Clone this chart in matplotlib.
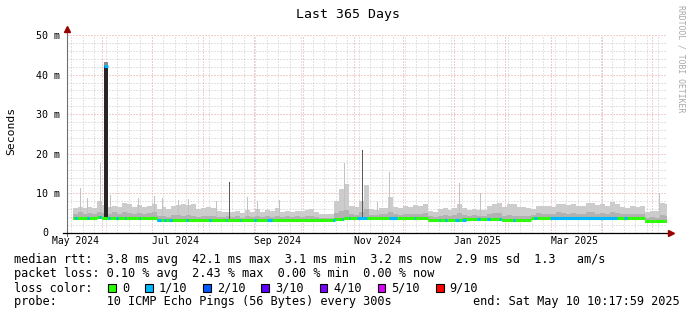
import datetime as dt
import matplotlib
matplotlib.use('Agg')
import matplotlib.pyplot as plt
import matplotlib.dates as mdates
from matplotlib.patches import Rectangle
import numpy as np

W, H = 697, 315
MONO = 'DejaVu Sans Mono'

start = dt.datetime(2024, 5, 10, 10, 17, 59)
end = start + dt.timedelta(days=365)

# smoke is read per 3 day bin, first bin starts 3.5 days after start
first_day = 3.5
bin_days = 3

smoke_top = [6.2, 6.5, 6.2, 6.6, 6.4, 8.0, 7.0, 6.5, 6.8, 6.5,
             7.5, 7.2, 6.6, 7.0, 6.6, 6.8, 7.4, 6.0, 6.5, 6.0,
             6.8, 7.0, 7.4, 7.0, 7.2, 6.0, 6.2, 6.6, 6.4, 5.6,
             5.4, 5.4, 5.2, 5.5, 5.0, 5.8, 5.4, 6.0, 5.3, 5.8,
             5.6, 6.2, 5.4, 5.6, 5.4, 5.6, 5.5, 5.8, 6.0, 5.2,
             4.8, 4.7, 4.8, 8.0, 11.0, 12.5, 6.8, 6.6, 8.0, 12.0,
             6.0, 5.8, 6.2, 6.4, 9.0, 6.6, 6.4, 6.8, 6.6, 7.0,
             6.8, 7.2, 5.6, 5.4, 6.0, 6.2, 5.8, 6.4, 7.3, 6.2,
             5.8, 6.0, 5.8, 5.8, 6.9, 7.4, 7.6, 6.6, 7.2, 7.2,
             6.6, 6.6, 6.4, 6.0, 6.9, 6.9, 6.8, 6.6, 7.3, 7.3,
             7.0, 7.2, 6.9, 6.9, 7.5, 7.6, 7.0, 7.2, 6.8, 7.8,
             7.4, 6.6, 6.4, 6.8, 6.6, 6.8, 5.4, 5.6, 5.5, 7.5, 7.3]

smoke_mid = [4.8, 5.2, 4.9, 5.0, 4.8, 5.4, 5.0, 4.9, 5.2, 4.8,
             5.3, 5.0, 4.8, 5.1, 4.9, 5.0, 5.2, 4.2, 4.4, 4.1,
             4.5, 4.6, 4.4, 4.6, 4.4, 4.0, 4.2, 4.4, 4.2, 4.0,
             4.1, 4.3, 4.0, 4.2, 3.9, 4.3, 4.1, 4.4, 4.0, 4.2,
             4.1, 4.4, 4.0, 4.2, 4.1, 4.3, 4.0, 4.3, 4.4, 4.0,
             3.8, 3.8, 3.9, 5.0, 5.6, 5.8, 4.8, 4.6, 5.2, 6.0,
             4.6, 4.5, 4.7, 4.8, 5.4, 4.8, 4.6, 4.8, 4.7, 4.9,
             4.8, 5.0, 4.2, 4.1, 4.4, 4.5, 4.2, 4.5, 5.0, 4.6,
             4.4, 4.5, 4.3, 4.4, 4.8, 5.0, 5.1, 4.3, 4.5, 4.4,
             4.2, 4.3, 4.2, 4.6, 5.0, 4.9, 4.7, 4.8, 5.2, 5.0,
             4.9, 5.1, 4.8, 4.9, 5.3, 5.2, 4.9, 5.1, 4.8, 5.4,
             5.1, 4.8, 4.7, 4.9, 4.8, 4.9, 3.9, 4.0, 3.9, 4.6, 4.4]

median_rtt = [3.8, 3.8, 3.9, 3.8, 3.8, 4.1, 3.9, 3.8, 3.8, 3.8,
              3.9, 3.8, 3.8, 3.8, 3.8, 3.9, 3.8, 3.3, 3.3, 3.4,
              3.3, 3.3, 3.3, 3.4, 3.3, 3.3, 3.3, 3.3, 3.3, 3.3,
              3.3, 3.4, 3.3, 3.3, 3.3, 3.3, 3.3, 3.4, 3.3, 3.3,
              3.3, 3.3, 3.3, 3.3, 3.3, 3.3, 3.3, 3.3, 3.3, 3.3,
              3.2, 3.2, 3.2, 3.6, 3.6, 3.8, 3.8, 3.8, 3.8, 3.9,
              3.8, 3.8, 3.8, 3.8, 3.9, 3.8, 3.8, 3.8, 3.8, 3.8,
              3.8, 3.8, 3.3, 3.3, 3.3, 3.3, 3.3, 3.3, 3.3, 3.5,
              3.5, 3.5, 3.6, 3.5, 3.5, 3.5, 3.5, 3.3, 3.3, 3.3,
              3.3, 3.3, 3.3, 3.8, 3.8, 3.9, 3.8, 3.8, 3.8, 3.9,
              3.8, 3.8, 3.8, 3.9, 3.8, 3.8, 3.8, 3.9, 3.8, 3.8,
              3.8, 3.8, 3.7, 3.7, 3.7, 3.7, 3.1, 3.1, 3.1, 3.1, 3.1]

smoke_low = [3.3, 3.3, 3.4, 3.3, 3.3, 3.5, 3.4, 3.3, 3.3, 3.3,
             3.4, 3.3, 3.3, 3.3, 3.3, 3.4, 3.3, 2.8, 2.8, 2.9,
             2.8, 2.8, 2.8, 2.9, 2.8, 2.8, 2.8, 2.8, 2.8, 2.8,
             2.8, 2.9, 2.8, 2.8, 2.8, 2.8, 2.8, 2.9, 2.8, 2.8,
             2.8, 2.8, 2.8, 2.8, 2.8, 2.8, 2.8, 2.8, 2.8, 2.8,
             2.7, 2.7, 2.7, 3.1, 3.1, 3.3, 3.3, 3.3, 3.3, 3.4,
             3.3, 3.3, 3.3, 3.3, 3.4, 3.3, 3.3, 3.3, 3.3, 3.3,
             3.3, 3.3, 2.8, 2.8, 2.8, 2.8, 2.8, 2.8, 2.8, 3.0,
             3.0, 3.0, 3.1, 3.0, 3.0, 3.0, 3.0, 2.8, 2.8, 2.8,
             2.8, 2.8, 2.8, 3.3, 3.3, 3.4, 3.3, 3.3, 3.3, 3.4,
             3.3, 3.3, 3.3, 3.4, 3.3, 3.3, 3.3, 3.4, 3.3, 3.3,
             3.3, 3.3, 3.2, 3.2, 3.2, 3.2, 2.6, 2.6, 2.6, 2.6, 2.6]

# thin single-step spikes (day after start, ms)
spike_days = [7.9, 12.2, 20.1, 26.2, 43.2, 52.9, 57.8, 67.5, 73.6, 90.6,
              109.5, 115.6, 129.0, 168.5, 188.6, 195.9, 238.5, 251.2, 360.1]
spike_ms = [11.4, 8.8, 17.8, 9.6, 8.8, 9.3, 8.8, 8.3, 8.5, 8.2,
            9.2, 8.0, 8.3, 17.8, 7.9, 15.5, 12.7, 10.2, 10.0]
dark_spike_days = [98.6, 179.5]
dark_spike_ms = [13.0, 21.0]

# the one outage-like step late May 2024
big_day = 22.5
big_len = 2.2
big_median = 42.1
big_max = 43.3

# steps with 1/10 loss (start day, length in days)
loss_start = [5.0, 12.3, 19.5, 25.0, 30.0, 35.0, 43.5, 55.0, 59.0, 62.0,
              72.5, 86.5, 96.5, 105.0, 114.0, 121.5, 162.0, 167.0, 171.3, 176.3,
              196.0, 211.0, 226.0, 230.0, 236.0, 240.0, 249.4, 255.5, 263.0, 271.5,
              284.0, 293.8, 338.9]
loss_len = [1.2, 1.2, 1.2, 1.0, 1.0, 1.0, 1.0, 2.0, 1.5, 2.0,
            1.2, 1.2, 1.0, 1.0, 1.2, 3.0, 1.2, 1.0, 1.0, 6.0,
            5.0, 1.0, 1.0, 1.0, 2.5, 3.0, 1.8, 1.8, 1.0, 1.0,
            2.0, 40.8, 1.8]

rtt_stats = [3.8, 42.1, 3.1, 3.2, 2.9]
am_s = 1.3
loss_stats = [0.10, 2.43, 0.00, 0.00]
loss_labels = ['0', '1/10', '2/10', '3/10', '4/10', '5/10', '9/10']
loss_colors = ['#26ff00', '#00b8ff', '#0059ff', '#5e00ff', '#7e00ff', '#dd00ff', '#ff0000']
y_ticks = [10, 20, 30, 40, 50]
x_labels = [dt.datetime(2024, 5, 1), dt.datetime(2024, 7, 1), dt.datetime(2024, 9, 1),
            dt.datetime(2024, 11, 1), dt.datetime(2025, 1, 1), dt.datetime(2025, 3, 1)]

fig = plt.figure(figsize=(W / 100, H / 100), dpi=100)
fig.patch.set_facecolor('white')
ax = fig.add_axes([67 / W, 82 / H, 600 / W, 198 / H])
ax.set_facecolor('white')

d0 = mdates.date2num(start)
d1 = mdates.date2num(end)
ax.set_xlim(d0, d1)
ax.set_ylim(0, 50)

# grid
for ms in range(2, 51, 2):
    if ms % 10 == 0:
        ax.axhline(ms, color='#e89a9a', lw=0.72, ls=(0, (1, 2)), zorder=1)
    else:
        ax.axhline(ms, color='#c8c8c8', lw=0.72, ls=(0, (1, 2)), zorder=1)
day = start.date() + dt.timedelta(days=1)
while day < end.date():
    if day.day == 1:
        ax.axvline(mdates.date2num(day), color='#e89a9a', lw=0.72, ls=(0, (1, 2)), zorder=1)
    elif day.weekday() == 0:
        ax.axvline(mdates.date2num(day), color='#c8c8c8', lw=0.72, ls=(0, (1, 2)), zorder=1)
    day += dt.timedelta(days=1)

top = np.array(smoke_top)
mid = np.array(smoke_mid)
med = np.array(median_rtt)
low = np.array(smoke_low)
bx = d0 + first_day + bin_days * np.arange(len(top))

# smoke
ax.bar(bx, top - low, bottom=low, width=bin_days, align='edge', color='#cccccc', lw=0, zorder=2)
sp_base = med[((np.array(spike_days) - first_day) // bin_days).astype(int)]
ax.bar(d0 + np.array(spike_days), np.array(spike_ms) - sp_base, bottom=sp_base,
       width=0.75, align='edge', color='#c2c2c2', lw=0, zorder=2)
ax.bar(bx, mid - low, bottom=low, width=bin_days, align='edge', color='#b2b2b2', lw=0, zorder=3)
dk_base = med[((np.array(dark_spike_days) - first_day) // bin_days).astype(int)]
ax.bar(d0 + np.array(dark_spike_days), np.array(dark_spike_ms) - dk_base, bottom=dk_base,
       width=0.8, align='edge', color='#5a5a5a', lw=0, zorder=3)

# big step
bi = int((big_day - first_day) // bin_days)
ax.bar(d0 + big_day, big_max - med[bi], bottom=med[bi], width=big_len, align='edge',
       color='#8a8a8a', lw=0, zorder=4)
ax.bar(d0 + big_day, big_median - med[bi], bottom=med[bi], width=big_len, align='edge',
       color='#262626', lw=0, zorder=4)
ax.hlines(big_median, d0 + big_day, d0 + big_day + big_len, colors=loss_colors[1],
          lw=2.2, zorder=6, capstyle='butt')

# median coloured by loss
ax.hlines(med, bx, bx + bin_days, colors=loss_colors[0], lw=2.2, zorder=5, capstyle='butt')
for s, l in zip(loss_start, loss_len):
    i = int((s - first_day) // bin_days)
    ax.hlines(med[i], d0 + s, d0 + s + l, colors=loss_colors[1], lw=2.2, zorder=6, capstyle='butt')

# axes
for sp in ax.spines.values():
    sp.set_visible(False)
ax.set_xticks([])
ax.set_yticks(y_ticks)
ax.set_yticklabels(['%d m' % v for v in y_ticks], family=MONO, fontsize=7.2)
ax.tick_params(axis='y', length=0, pad=5)
# rrdtool pads the zero label as if it had a unit
ax.text(-19 / 600, 0, '0', transform=ax.transAxes, ha='right', va='center',
        family=MONO, fontsize=7.2)
ax.plot([0, 0], [-0.015, 1.02], transform=ax.transAxes, color='#707070', lw=0.8,
        clip_on=False, zorder=7)
ax.plot([-4 / 600, 1.003], [0, 0], transform=ax.transAxes, color='black', lw=0.9,
        clip_on=False, zorder=7)
ax.plot([0], [1.03], marker='^', ms=4, color='#990000', transform=ax.transAxes, clip_on=False, zorder=8)
ax.plot([1.0067], [0], marker='>', ms=4, color='#990000', transform=ax.transAxes, clip_on=False, zorder=8)

for d in x_labels:
    ax.text(mdates.date2num(d), -0.058, d.strftime('%b %Y'), ha='left', va='baseline',
            family=MONO, fontsize=7.0, transform=ax.get_xaxis_transform(), clip_on=False)

fig.text(348 / W, 1 - 18.3 / H, 'Last 365 Days', ha='center', va='baseline', family=MONO, fontsize=9.5)
fig.text(11 / W, 1 - 131 / H, 'Seconds', rotation=90, ha='center', va='center', family=MONO, fontsize=8.2)
fig.text(681 / W, 1 - 5 / H, 'RRDTOOL / TOBI OETIKER', rotation=270, ha='center', va='top',
         family=MONO, fontsize=5.9, color='#a8a8a8')

# legend
fs = 8.58
cw = 7.17
x0 = 14.1
line1 = 'median rtt:  %.1f ms avg  %.1f ms max  %.1f ms min  %.1f ms now  %.1f ms sd  %.1f   am/s' % (
    rtt_stats[0], rtt_stats[1], rtt_stats[2], rtt_stats[3], rtt_stats[4], am_s)
line2 = 'packet loss: %.2f %% avg  %.2f %% max  %.2f %% min  %.2f %% now' % tuple(loss_stats)
line4 = 'probe:       10 ICMP Echo Pings (56 Bytes) every 300s'
fig.text(x0 / W, 1 - 263.5 / H, line1, family=MONO, fontsize=fs, va='baseline')
fig.text(x0 / W, 1 - 277.5 / H, line2, family=MONO, fontsize=fs, va='baseline')
fig.text(x0 / W, 1 - 291.5 / H, 'loss color:', family=MONO, fontsize=fs, va='baseline')
fig.text(x0 / W, 1 - 305.5 / H, line4, family=MONO, fontsize=fs, va='baseline')
fig.text((x0 + 64 * cw) / W, 1 - 305.5 / H, 'end: Sat May 10 10:17:59 2025',
         family=MONO, fontsize=fs, va='baseline')

bx_px = 108.3
for lab, col in zip(loss_labels, loss_colors):
    fig.add_artist(Rectangle((bx_px / W, 1 - 291.7 / H), 7.7 / W, 7.7 / H, transform=fig.transFigure,
                             facecolor=col, edgecolor='black', lw=0.8))
    fig.text((bx_px + 13.5) / W, 1 - 291.5 / H, lab, family=MONO, fontsize=fs, va='baseline')
    bx_px += 13.5 + len(lab) * cw + 16

fig.savefig('out.png', dpi=100)
